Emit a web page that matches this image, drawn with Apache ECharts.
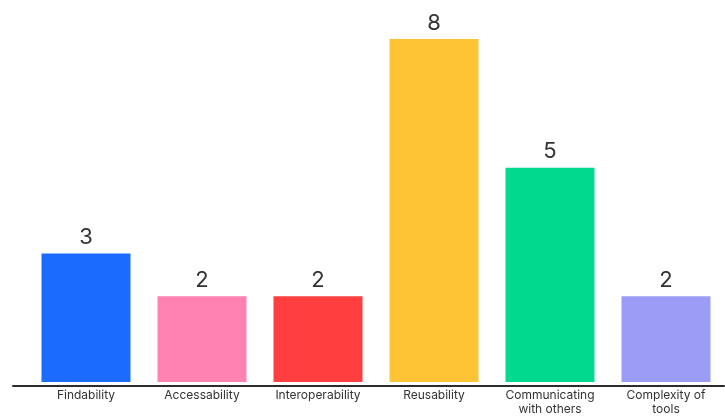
<!DOCTYPE html>
<html><head><meta charset="utf-8">
<script src="https://cdn.jsdelivr.net/npm/echarts@6/dist/echarts.min.js"></script>
<style>html,body{margin:0;padding:0;background:#fff}#c{width:725px;height:416px}</style>
</head><body><div id="c"></div>
<script>
const categories = ['Findability','Accessability','Interoperability','Reusability','Communicating\nwith others','Complexity of\ntools'];
const values = [3,2,2,8,5,2];
const colors = ['#1b6bff','#ff82b0','#ff3f3f','#ffc435','#00d98e','#9a9cf5'];

const chart = echarts.init(document.getElementById('c'));
chart.setOption({
  animation:false,
  grid:[{left:28,right:1,top:39,bottom:30},{left:13,right:1,top:39,bottom:30}],
  xAxis:[{
    type:'category', data:categories, gridIndex:0,
    axisLine:{show:false}, axisTick:{show:false},
    axisLabel:{color:'#333',fontSize:12,fontFamily:'Inter',margin:6,lineHeight:14,interval:0}
  },{
    type:'category', data:[''], gridIndex:1,
    axisLine:{show:true,lineStyle:{color:'#2b2b2b',width:2}}, axisTick:{show:false}, axisLabel:{show:false}
  }],
  yAxis:[{type:'value',min:0,max:8,show:false,gridIndex:0},{type:'value',show:false,gridIndex:1}],
  series:[{
    type:'bar', xAxisIndex:0, yAxisIndex:0, barWidth:89,
    data:values.map((v,i)=>({value:v,itemStyle:{color:colors[i]}})),
    label:{show:true,position:'top',distance:5,color:'#333',fontSize:22,fontFamily:'Inter'}
  }]
});
</script></body></html>
